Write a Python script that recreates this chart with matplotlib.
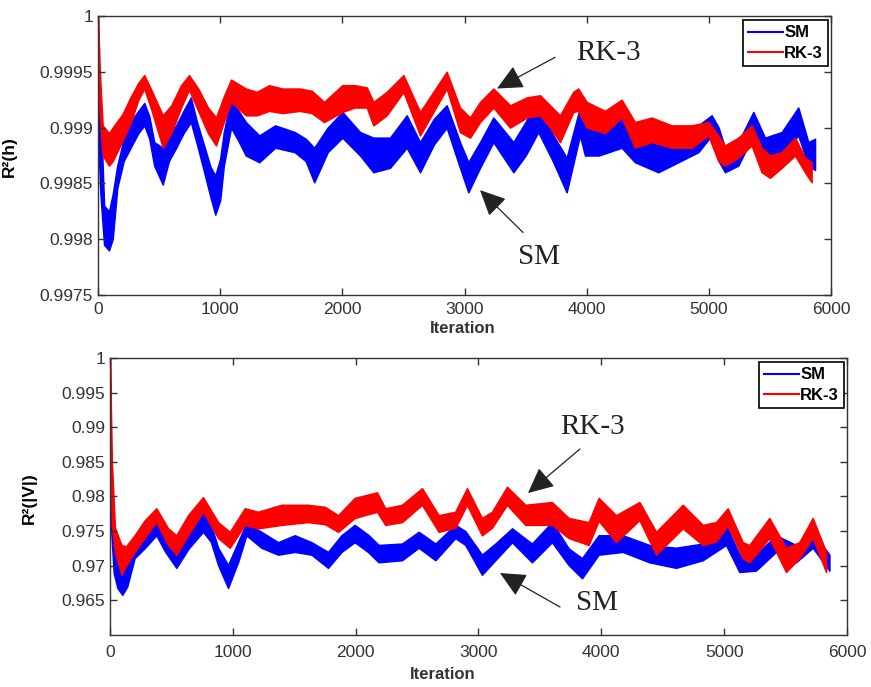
import numpy as np
import matplotlib
matplotlib.use('Agg')
import matplotlib.pyplot as plt

plt.rcParams['font.family'] = ['Liberation Sans', 'DejaVu Sans']

# ---- top panel, R^2(h): band (low / high) of each noisy trace
h_sm_it = [0, 20, 50, 90, 120, 158, 210, 267, 330, 379, 420, 460, 530, 580, 640, 700,
           760, 810, 860, 920, 960, 1000, 1030, 1089, 1150, 1210, 1320, 1450, 1610, 1700,
           1770, 1880, 2000, 2145, 2254, 2390, 2527, 2636, 2750, 2854, 2963, 3031, 3127,
           3236, 3400, 3500, 3604, 3727, 3836, 3945, 3986, 4100, 4286, 4395, 4586, 4750,
           4914, 5023, 5080, 5132, 5241, 5364, 5459, 5596, 5732, 5814, 5869]
h_sm_lo = [0.99895, 0.9984, 0.99795, 0.9979, 0.998, 0.99846, 0.9987, 0.99882, 0.99895,
           0.99902, 0.9989, 0.99866, 0.99849, 0.9987, 0.99882, 0.99895, 0.99905, 0.99885,
           0.99864, 0.99838, 0.99822, 0.99835, 0.99866, 0.999, 0.99888, 0.99875, 0.99869,
           0.99882, 0.99878, 0.9987, 0.99851, 0.99878, 0.99891, 0.99875, 0.9986, 0.99864,
           0.99882, 0.9986, 0.99885, 0.999, 0.99864, 0.99842, 0.99864, 0.99887, 0.9986,
           0.99875, 0.99896, 0.99869, 0.99842, 0.99893, 0.99875, 0.99875, 0.99882, 0.99869,
           0.9986, 0.99869, 0.99878, 0.99893, 0.9987, 0.9986, 0.99866, 0.99893, 0.99873,
           0.99875, 0.99893, 0.99866, 0.99862]
h_sm_hi = [0.99963, 0.9992, 0.9983, 0.99825, 0.9984, 0.99866, 0.9989, 0.99905, 0.99915,
           0.99922, 0.9991, 0.99887, 0.99882, 0.99892, 0.99902, 0.99915, 0.99927, 0.99905,
           0.99887, 0.99865, 0.99857, 0.99872, 0.99896, 0.99927, 0.99915, 0.99905, 0.99893,
           0.99902, 0.99896, 0.9989, 0.99882, 0.999, 0.99914, 0.99896, 0.99891, 0.99891,
           0.99911, 0.99887, 0.99908, 0.9992, 0.99887, 0.99869, 0.99887, 0.99909, 0.99887,
           0.99905, 0.99927, 0.99893, 0.99873, 0.99918, 0.999, 0.99898, 0.99911, 0.99891,
           0.99887, 0.99893, 0.99902, 0.99911, 0.999, 0.99882, 0.99887, 0.99914, 0.99891,
           0.99896, 0.99918, 0.99887, 0.9989]

h_rk_it = [0, 15, 38, 90, 120, 200, 270, 330, 379, 440, 530, 600, 680, 745, 820, 900,
           966, 1030, 1089, 1210, 1300, 1400, 1510, 1650, 1750, 1850, 2000, 2100, 2200,
           2254, 2363, 2500, 2636, 2745, 2854, 2963, 3045, 3127, 3236, 3373, 3509, 3618,
           3700, 3782, 3890, 3930, 4000, 4150, 4286, 4395, 4532, 4695, 4859, 4995, 5077,
           5132, 5241, 5350, 5432, 5500, 5596, 5705, 5787, 5841]
h_rk_lo = [0.9996, 0.9991, 0.99875, 0.99866, 0.9987, 0.99888, 0.99905, 0.99925, 0.99935,
           0.99915, 0.99882, 0.99895, 0.99918, 0.99934, 0.99915, 0.99895, 0.99884, 0.99905,
           0.99923, 0.99911, 0.99911, 0.99915, 0.99913, 0.99915, 0.99913, 0.99905, 0.99914,
           0.99918, 0.99918, 0.99902, 0.99911, 0.99932, 0.99893, 0.99914, 0.99935, 0.99896,
           0.99891, 0.99905, 0.99918, 0.999, 0.99909, 0.99911, 0.999, 0.99887, 0.99914,
           0.99915, 0.999, 0.99895, 0.99909, 0.99882, 0.99887, 0.99882, 0.99882, 0.99893,
           0.9987, 0.99866, 0.99873, 0.99884, 0.9986, 0.99855, 0.99864, 0.99875, 0.9986,
           0.99851]
h_rk_hi = [1.0, 0.9995, 0.99902, 0.99895, 0.999, 0.99912, 0.99928, 0.9994, 0.99947,
           0.99933, 0.99911, 0.9992, 0.99938, 0.99947, 0.99935, 0.99918, 0.99909, 0.99928,
           0.99943, 0.99935, 0.99932, 0.99938, 0.99935, 0.99935, 0.99933, 0.99923, 0.99938,
           0.99938, 0.99936, 0.99923, 0.99932, 0.99947, 0.99914, 0.99932, 0.9995, 0.99918,
           0.99909, 0.99923, 0.99935, 0.9992, 0.99927, 0.99929, 0.9992, 0.99911, 0.99932,
           0.99935, 0.99923, 0.99915, 0.99925, 0.99905, 0.99909, 0.99902, 0.99902, 0.99905,
           0.99893, 0.99884, 0.99891, 0.99902, 0.99882, 0.99875, 0.99878, 0.99891, 0.99873,
           0.99869]

# ---- bottom panel, R^2(|V|)
v_sm_it = [0, 10, 30, 60, 100, 140, 200, 280, 377, 450, 540, 640, 757, 820, 880, 961,
           1042, 1110, 1232, 1368, 1504, 1640, 1775, 1884, 1992, 2100, 2187, 2377, 2513,
           2649, 2811, 2893, 3028, 3137, 3273, 3435, 3598, 3734, 3843, 3978, 4174, 4391,
           4608, 4826, 5015, 5124, 5259, 5422, 5585, 5721, 5857]
v_sm_lo = [0.980, 0.975, 0.969, 0.9668, 0.9658, 0.967, 0.9711, 0.9725, 0.9744, 0.972,
           0.9697, 0.9725, 0.9749, 0.9735, 0.9701, 0.9668, 0.9705, 0.9744, 0.9726, 0.9716,
           0.972, 0.9716, 0.9697, 0.972, 0.9734, 0.972, 0.9705, 0.9708, 0.9726, 0.9708,
           0.974, 0.973, 0.9687, 0.9708, 0.9734, 0.9705, 0.9734, 0.9701, 0.9682, 0.9716,
           0.972, 0.9705, 0.9697, 0.9708, 0.973, 0.9691, 0.9693, 0.972, 0.9705, 0.9726,
           0.9693]
v_sm_hi = [0.9932, 0.983, 0.976, 0.9705, 0.969, 0.9705, 0.9734, 0.975, 0.9769, 0.9745,
           0.972, 0.975, 0.9778, 0.976, 0.9726, 0.9701, 0.9734, 0.9762, 0.9749, 0.9734,
           0.9744, 0.9734, 0.972, 0.9744, 0.9759, 0.9745, 0.973, 0.9732, 0.9749, 0.9732,
           0.9759, 0.975, 0.9716, 0.9732, 0.9754, 0.9732, 0.9763, 0.9725, 0.9711, 0.9744,
           0.9744, 0.973, 0.9726, 0.9732, 0.9759, 0.9716, 0.9716, 0.9744, 0.973, 0.9749,
           0.9716]

v_rk_it = [0, 15, 40, 93, 130, 200, 280, 377, 473, 540, 635, 757, 880, 975, 1097, 1205,
           1395, 1612, 1750, 1857, 1992, 2174, 2241, 2377, 2540, 2676, 2811, 2906, 3028,
           3110, 3232, 3381, 3598, 3734, 3897, 3978, 4120, 4310, 4446, 4663, 4826, 4934,
           5029, 5151, 5205, 5368, 5504, 5612, 5721, 5830]
v_rk_lo = [0.990, 0.976, 0.972, 0.9687, 0.970, 0.972, 0.974, 0.9763, 0.973, 0.9716,
           0.9744, 0.9778, 0.974, 0.9726, 0.9759, 0.9754, 0.9759, 0.9763, 0.976, 0.9749,
           0.9769, 0.9778, 0.9759, 0.9763, 0.9788, 0.9749, 0.9755, 0.9788, 0.9744, 0.9755,
           0.9788, 0.9759, 0.9759, 0.974, 0.973, 0.9765, 0.9734, 0.9766, 0.9716, 0.9754,
           0.973, 0.9735, 0.9758, 0.9711, 0.9705, 0.974, 0.9691, 0.9711, 0.974, 0.9691]
v_rk_hi = [1.0, 0.985, 0.9755, 0.973, 0.9728, 0.9744, 0.9765, 0.9783, 0.9754, 0.9744,
           0.9773, 0.9799, 0.9763, 0.9749, 0.9783, 0.9778, 0.9788, 0.9788, 0.9785, 0.9773,
           0.9798, 0.9806, 0.9783, 0.9788, 0.9812, 0.9773, 0.9778, 0.9812, 0.9769, 0.9778,
           0.9814, 0.9788, 0.9792, 0.9769, 0.9763, 0.9798, 0.9773, 0.9792, 0.9749, 0.9788,
           0.9759, 0.9763, 0.9783, 0.9734, 0.973, 0.9769, 0.9726, 0.9734, 0.9769, 0.972]

h_yticks = [0.9975, 0.998, 0.9985, 0.999, 0.9995, 1.0]
h_ylabels = ['0.9975', '0.998', '0.9985', '0.999', '0.9995', '1']
v_yticks = [0.965, 0.97, 0.975, 0.98, 0.985, 0.99, 0.995, 1.0]
v_ylabels = ['0.965', '0.97', '0.975', '0.98', '0.985', '0.99', '0.995', '1']
xticks = [0, 1000, 2000, 3000, 4000, 5000, 6000]

BLUE = '#0000ff'
RED = '#ff0000'
TXT = '#333333'


def draw_band(ax, it, lo, hi, color, label):
    ax.fill_between(it, lo, hi, color=color, lw=1.1, edgecolor=color)
    ax.plot([], [], color=color, lw=1.5, label=label)


def style(ax, yticks, ylabels, ylim, ylabel, lab_x, xlab_pos, tick_pad):
    ax.set_xlim(0, 6000)
    ax.set_ylim(*ylim)
    ax.set_xticks(xticks)
    ax.set_xticklabels([str(t) for t in xticks])
    ax.set_yticks(yticks)
    ax.set_yticklabels(ylabels)
    ax.tick_params(direction='in', length=5, width=1, top=True, right=True,
                   labelsize=12.5, labelcolor=TXT, color='#333333')
    ax.tick_params(axis='x', pad=tick_pad)
    for s in ax.spines.values():
        s.set_color('#333333')
        s.set_linewidth(1.0)
    ax.set_ylabel(ylabel, fontsize=12.5, fontweight='bold', color='black')
    ax.yaxis.set_label_coords(lab_x, 0.495)
    ax.set_xlabel('Iteration', fontsize=12, fontweight='bold', color=TXT)
    ax.xaxis.set_label_coords(*xlab_pos)
    leg = ax.legend(loc='upper right', bbox_to_anchor=(0.996, 0.984), borderaxespad=0,
                    fancybox=False, framealpha=1, edgecolor='black',
                    prop={'weight': 'bold', 'size': 12}, handlelength=2.1,
                    handletextpad=0.1, labelspacing=0.35, borderpad=0.3)
    leg.get_frame().set_linewidth(1.2)


def arrow_note(ax, text, txy, tail, tip):
    ax.annotate('', xy=tip, xytext=tail,
                arrowprops=dict(arrowstyle='-|>,head_length=0.8,head_width=0.38',
                                mutation_scale=20, color='#222222', lw=0.9,
                                shrinkA=0, shrinkB=0))
    ax.text(*txy, text, fontsize=21, family=['Liberation Serif'], color='#222222',
            ha='center', va='center')


fig = plt.figure(figsize=(8.71, 6.87), dpi=100)
ax1 = fig.add_axes([0.1125, 0.5706, 0.8416, 0.4061])
ax2 = fig.add_axes([0.1263, 0.0757, 0.8461, 0.4032])

draw_band(ax1, h_sm_it, h_sm_lo, h_sm_hi, BLUE, 'SM')
draw_band(ax1, h_rk_it, h_rk_lo, h_rk_hi, RED, 'RK-3')
style(ax1, h_yticks, h_ylabels, (0.9975, 1.0), 'R²(h)', -0.11, (0.498, -0.092), 5)
arrow_note(ax1, 'RK-3', (4175, 0.99967), (3741, 0.99963), (3266, 0.99935))
arrow_note(ax1, 'SM', (3610, 0.99784), (3479, 0.99806), (3127, 0.99844))

draw_band(ax2, v_sm_it, v_sm_lo, v_sm_hi, BLUE, 'SM')
draw_band(ax2, v_rk_it, v_rk_lo, v_rk_hi, RED, 'RK-3')
style(ax2, v_yticks, v_ylabels, (0.96, 1.0), 'R²(|V|)', -0.099, (0.452, -0.117), 7)
arrow_note(ax2, 'RK-3', (3932, 0.99), (3826, 0.98686), (3403, 0.9805))
arrow_note(ax2, 'SM', (3965, 0.96462), (3664, 0.96404), (3175, 0.96895))

plt.savefig('out.png', dpi=100)
